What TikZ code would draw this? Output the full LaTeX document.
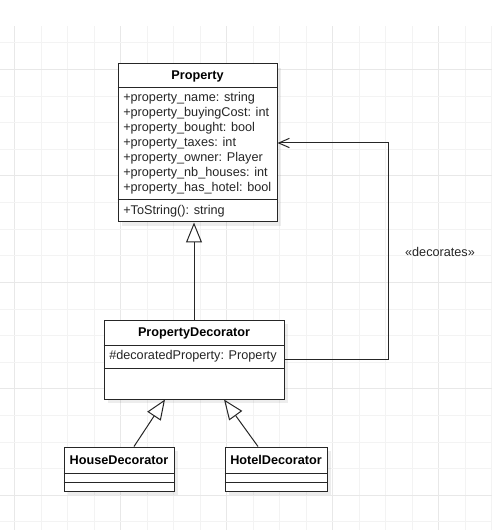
\documentclass[tikz,border=0pt]{standalone}
\usepackage{fontspec}
\setmainfont{Liberation Sans}
\usetikzlibrary{arrows.meta,fit,shadows}
\definecolor{gridminor}{HTML}{F3F3F3}
\definecolor{gridmajor}{HTML}{E8E8E8}
\definecolor{umlline}{HTML}{262626}
\tikzset{
  classbox/.style={draw=umlline,fill=white,line width=0.75pt,inner sep=0pt,
    drop shadow={fill=black,opacity=0.07,shadow xshift=3pt,shadow yshift=-3pt}},
  sep/.style={draw=umlline,line width=0.75pt},
  classname/.style={font=\bfseries\fontsize{9.5}{11}\selectfont,inner sep=0pt},
  member/.style={font=\fontsize{9.5}{11}\selectfont,anchor=west,inner sep=0pt,text=black!85},
  inherit/.style={draw=umlline,line width=0.75pt,-{Triangle[open,length=15pt,width=12pt]}},
  depend/.style={draw=umlline,line width=0.75pt,-{Straight Barb[length=8pt,width=7pt]}},
}
\begin{document}
\begin{tikzpicture}[x=0.75pt,y=-0.75pt] % diagramme de classes : decorateur
\useasboundingbox (0,0) rectangle (492,530);

% grille de fond
\foreach \k in {0,...,18}
  {\pgfmathtruncatemacro\major{mod(\k,4)==0 ? 1 : 0}
   \ifnum\major=1 \def\gc{gridmajor}\else\def\gc{gridminor}\fi
   \draw[color=\gc,line width=0.75pt] (14.5+26.5*\k,26) -- (14.5+26.5*\k,530);}
\foreach \k in {0,...,18}
  {\pgfmathtruncatemacro\major{mod(\k,4)==1 ? 1 : 0}
   \ifnum\major=1 \def\gc{gridmajor}\else\def\gc{gridminor}\fi
   \draw[color=\gc,line width=0.75pt] (0,43+26.6*\k) -- (492,43+26.6*\k);}

% Property
\node[classbox,fit={(118,64) (277,222)}] (prop) {};
\draw[sep] (prop.west |- 0,88) -- (prop.east |- 0,88);
\draw[sep] (prop.west |- 0,200) -- (prop.east |- 0,200);
\node[classname] (prop-name) at (197.5,76) {Property};
\foreach \t [count=\i] in {+property\_name: string,+property\_buyingCost: int,
    +property\_bought: bool,+property\_taxes: int,+property\_owner: Player,
    +property\_nb\_houses: int,+property\_has\_hotel: bool}
  {\node[member] (prop-attr\i) at (123,83+15*\i) {\t};}
\node[member] (prop-op) at (123,211) {+ToString(): string};

% PropertyDecorator
\node[classbox,fit={(104,320) (284,399)}] (pdec) {};
\draw[sep] (pdec.west |- 0,345) -- (pdec.east |- 0,345);
\draw[sep] (pdec.west |- 0,368) -- (pdec.east |- 0,368);
\node[classname] (pdec-name) at (194,333) {PropertyDecorator};
\node[member] (pdec-attr) at (109,356) {\#decoratedProperty: Property};

% HouseDecorator, HotelDecorator
\node[classbox,fit={(64,447) (174,491)}] (house) {};
\draw[sep] (house.west |- 0,473) -- (house.east |- 0,473);
\draw[sep] (house.west |- 0,482) -- (house.east |- 0,482);
\node[classname] (house-name) at (119,460) {HouseDecorator};
\node[classbox,fit={(225,447) (327,491)}] (hotel) {};
\draw[sep] (hotel.west |- 0,473) -- (hotel.east |- 0,473);
\draw[sep] (hotel.west |- 0,482) -- (hotel.east |- 0,482);
\node[classname] (hotel-name) at (276,460) {HotelDecorator};

% liens
\draw[inherit] (pdec.north) -- (pdec.north |- prop.south);
\draw[inherit] ([shift={(15,0)}]house.north) -- ([shift={(-29,0)}]pdec.south);
\draw[inherit] ([shift={(-18,0)}]hotel.north) -- ([shift={(30,0)}]pdec.south);
\coordinate (bend) at (388,143);
\draw[depend] (pdec.east) -| (bend) -- (prop.east);
\node[member,anchor=center] (dep-label) at (440,252) {«decorates»};

\end{tikzpicture}
\end{document}
